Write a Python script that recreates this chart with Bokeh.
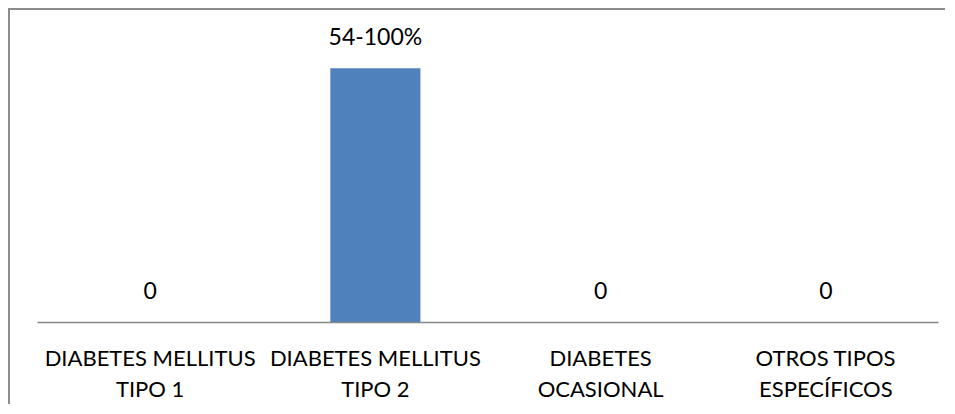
from bokeh.plotting import figure
from bokeh.models import ColumnDataSource, FactorRange, Range1d
from bokeh.core.properties import value
from bokeh.embed import file_html
from bokeh.resources import INLINE

categories = ["DIABETES MELLITUS\nTIPO 1", "DIABETES MELLITUS\nTIPO 2",
              "DIABETES\nOCASIONAL", "OTROS TIPOS\nESPECÍFICOS"]
values = [0, 54, 0, 0]
labels = ["0", "54-100%", "0", "0"]

FONT = "Lato"

src = ColumnDataSource(dict(cat=categories, val=values, lab=labels))

p = figure(x_range=FactorRange(*categories, range_padding=0),
           y_range=Range1d(0, 65),
           width=937, height=396, output_backend="svg", toolbar_location=None,
           min_border_left=27, min_border_right=9, min_border_top=6, min_border_bottom=84)
p.styles = {"border-left": "2px solid #8c8c8c", "border-top": "2px solid #8c8c8c",
            "margin-left": "8px", "margin-top": "8px"}
p.outline_line_color = None
p.xgrid.visible = False
p.ygrid.visible = False
p.yaxis.visible = False

p.vbar(x="cat", top="val", width=0.4, source=src, color="#4F81BD", line_color=None)
p.text(x="cat", y="val", text="lab", source=src, text_align="center",
       text_baseline="alphabetic", y_offset=-32, text_font=value(FONT),
       text_font_size="23px", text_color="#000000")

ax = p.xaxis[0]
ax.axis_line_color = "#868686"
ax.axis_line_width = 1.5
ax.major_tick_line_color = None
ax.minor_tick_line_color = None
ax.major_label_text_font = FONT
ax.major_label_text_font_size = "22px"
ax.major_label_text_color = "#000000"
ax.major_label_standoff = 15
ax.major_label_text_line_height = 1.15

open("out.html", "w").write(file_html(p, INLINE))
